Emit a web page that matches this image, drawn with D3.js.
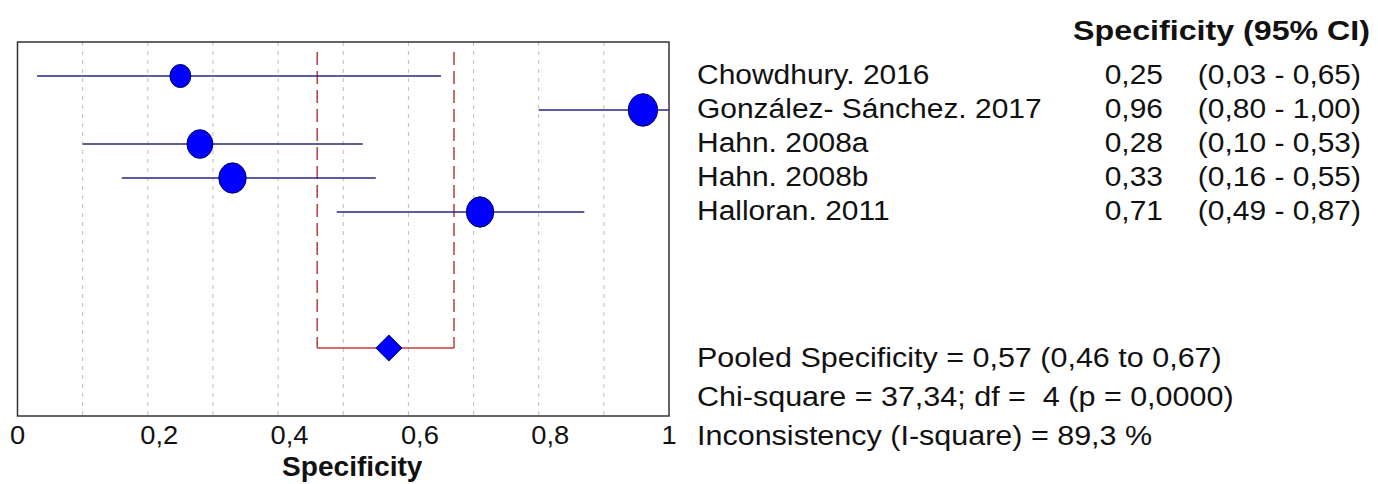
<!DOCTYPE html>
<html>
<head>
<meta charset="utf-8">
<script src="https://cdn.jsdelivr.net/npm/d3@7"></script>
<style>
  body { margin: 0; background: #fff; }
  svg { display: block; font-family: "Liberation Sans", Arial, sans-serif; }
  text { white-space: pre; }
</style>
</head>
<body>
<div class="chart"></div>
<script>
// Forest plot of specificity
var svgWidth = 1378;
var svgHeight = 484;

// data
var studies = ["Chowdhury. 2016", "González- Sánchez. 2017", "Hahn. 2008a", "Hahn. 2008b", "Halloran. 2011"];
var spec = [0.25, 0.96, 0.28, 0.33, 0.71];
var lower = [0.03, 0.80, 0.10, 0.16, 0.49];
var upper = [0.65, 1.00, 0.53, 0.55, 0.87];
var sampleN = [8, 25, 18, 21, 21];
var pooled = [0.57, 0.46, 0.67];
var xTicks = [0, 0.2, 0.4, 0.6, 0.8, 1];
var xTickLabels = ["0", "0,2", "0,4", "0,6", "0,8", "1"];
var gridValues = [0.1, 0.2, 0.3, 0.4, 0.5, 0.6, 0.7, 0.8, 0.9];
var statLines = [
    "Pooled Specificity = 0,57 (0,46 to 0,67)",
    "Chi-square = 37,34; df =  4 (p = 0,0000)",
    "Inconsistency (I-square) = 89,3 %"
];

var fmt = function(v) { return v.toFixed(2).replace(".", ","); };

var plot = { left: 17.5, right: 669, top: 42, bottom: 416 };

var svg = d3.select(".chart")
    .append("svg")
    .attr("width", svgWidth)
    .attr("height", svgHeight);

var xScale = d3.scaleLinear().domain([0, 1]).range([plot.left, plot.right]);
// row slots: 0 = top edge, studies at 1..5, pooled at 9, 11 = bottom edge
var yScale = d3.scaleLinear().domain([0, 11]).range([plot.top, plot.bottom]);
var rScale = d3.scaleLinear().domain(d3.extent(sampleN)).range([11, 15.5]);

// text in the picture is a little wider than Liberation Sans, so stretch it
function addText(g, x, y, str, size, sx, opts) {
    opts = opts || {};
    return g.append("text")
        .attr("transform", `translate(${x},${y}) scale(${sx},1)`)
        .attr("font-size", size)
        .attr("font-weight", opts.bold ? "bold" : "normal")
        .attr("text-anchor", opts.anchor || "start")
        .attr("fill", "#111")
        .text(str);
}

// gridlines
svg.append("g").selectAll("line")
    .data(gridValues)
    .enter()
    .append("line")
    .attr("x1", d => xScale(d)).attr("x2", d => xScale(d))
    .attr("y1", plot.top).attr("y2", plot.bottom)
    .attr("stroke", "#bdbdbd")
    .attr("stroke-width", 1)
    .attr("stroke-dasharray", "4,5");

// pooled interval (red bracket)
var yPool = yScale(9);
svg.append("g").selectAll("line")
    .data([pooled[1], pooled[2]])
    .enter()
    .append("line")
    .attr("x1", d => xScale(d)).attr("x2", d => xScale(d))
    .attr("y1", plot.top + 10).attr("y2", yPool)
    .attr("stroke", "#b0302a")
    .attr("stroke-width", 1.4)
    .attr("stroke-dasharray", "13,6");

svg.append("line")
    .attr("x1", xScale(pooled[1])).attr("x2", xScale(pooled[2]))
    .attr("y1", yPool).attr("y2", yPool)
    .attr("stroke", "#c83c3c")
    .attr("stroke-width", 1.3);

// CI lines
var rows = studies.map((s, i) => ({ name: s, est: spec[i], lo: lower[i], hi: upper[i], n: sampleN[i], k: i + 1 }));

svg.append("g").selectAll("line")
    .data(rows)
    .enter()
    .append("line")
    .attr("x1", d => xScale(d.lo)).attr("x2", d => xScale(d.hi))
    .attr("y1", d => yScale(d.k)).attr("y2", d => yScale(d.k))
    .attr("stroke", "#27278a")
    .attr("stroke-width", 1.5);

// border box
svg.append("rect")
    .attr("x", plot.left).attr("y", plot.top)
    .attr("width", plot.right - plot.left).attr("height", plot.bottom - plot.top)
    .attr("fill", "none")
    .attr("stroke", "#333")
    .attr("stroke-width", 1.5);

// study points
svg.append("g").selectAll("ellipse")
    .data(rows)
    .enter()
    .append("ellipse")
    .attr("cx", d => xScale(d.est))
    .attr("cy", d => yScale(d.k))
    .attr("rx", d => rScale(d.n) * 0.95)
    .attr("ry", d => rScale(d.n) * 1.05)
    .attr("fill", "#0000ff")
    .attr("stroke", "#000060")
    .attr("stroke-width", 1);

// pooled diamond
var dx = xScale(pooled[0]);
svg.append("path")
    .attr("d", `M${dx - 13},${yPool} L${dx},${yPool - 13} L${dx + 13},${yPool} L${dx},${yPool + 13} Z`)
    .attr("fill", "#0000ff")
    .attr("stroke", "#000060")
    .attr("stroke-width", 1);

// x axis labels
var xAxis = d3.axisBottom(xScale)
    .tickValues(xTicks)
    .tickFormat((d, i) => xTickLabels[i])
    .tickSize(0);

var tsx = 1.05;
var axisG = svg.append("g")
    .attr("transform", `translate(0, ${plot.bottom})`)
    .call(xAxis);
axisG.select(".domain").remove();
axisG.selectAll("text")
    .attr("font-family", "Liberation Sans, Arial, sans-serif")
    .attr("font-size", 26)
    .attr("fill", "#111")
    .attr("text-anchor", "start")
    .attr("y", 28)
    .attr("dy", 0)
    .attr("transform", `scale(${tsx},1)`)
    .attr("x", -8 / tsx);

addText(svg, (plot.left + plot.right) / 2 + 9, 476, "Specificity", 27, 1.04, { bold: true, anchor: "middle" });

// right side table
var table = svg.append("g");
addText(table, 1370, 40, "Specificity (95% CI)", 28, 1.15, { bold: true, anchor: "end" });

rows.forEach(function(d) {
    var y = yScale(d.k) + 8;
    addText(table, 697, y, d.name, 28, 1.07);
    addText(table, 1163, y, fmt(d.est), 28, 1.07, { anchor: "end" });
    addText(table, 1361, y, `(${fmt(d.lo)} - ${fmt(d.hi)})`, 28, 1.07, { anchor: "end" });
});

statLines.forEach(function(s, i) {
    addText(table, 697, 367 + i * 39, s, 28, 1.09);
});
</script>
</body>
</html>
